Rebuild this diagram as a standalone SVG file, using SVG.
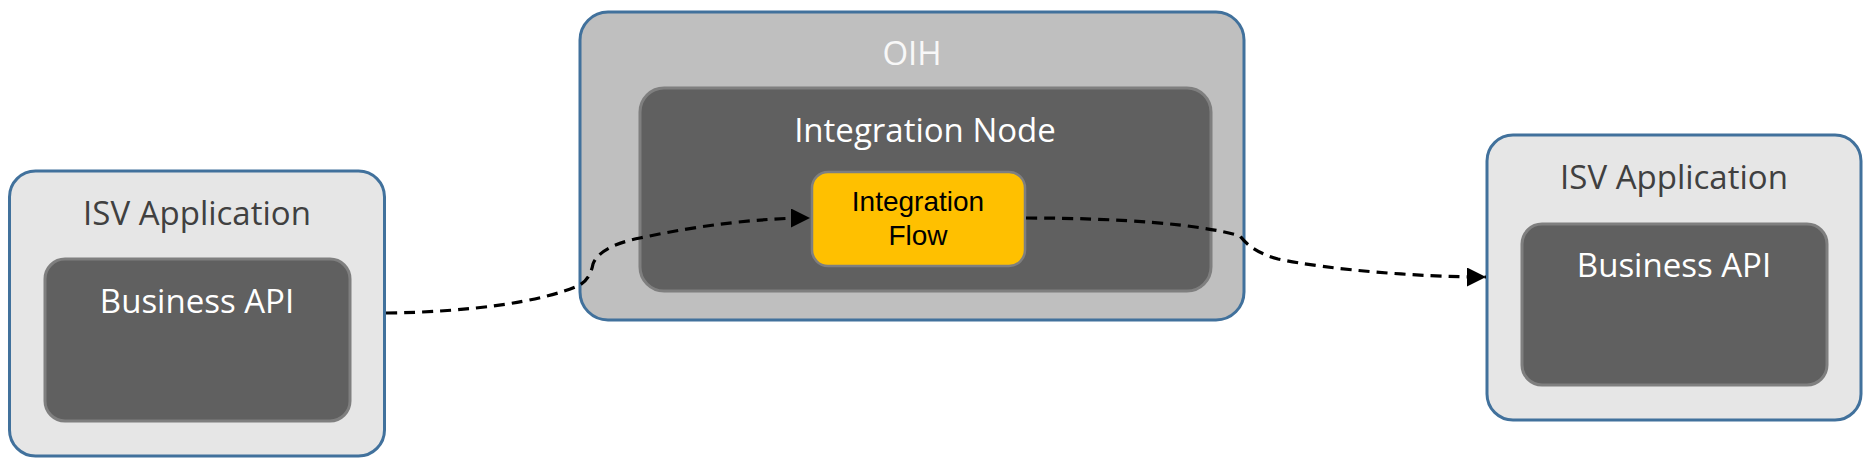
<svg xmlns="http://www.w3.org/2000/svg" width="1870" height="464" viewBox="0 0 1870 464">
<defs>
<style>
.outer{fill:#e6e6e6;stroke:#41719c;stroke-width:3}
.oih{fill:#bfbfbf;stroke:#41719c;stroke-width:3}
.dark{fill:#606060;stroke:#7f7f7f;stroke-width:3}
.flow{fill:#ffc000;stroke:#7f7f7f;stroke-width:2.5}
.t{font-family:"Open Sans","Liberation Sans",sans-serif;font-size:33px;text-anchor:middle}
.t1{fill:#404040}
.tw{fill:#ffffff}
.tf{font-family:"Liberation Sans",Arial,sans-serif;font-size:28px;text-anchor:middle;fill:#000}
.conn{fill:none;stroke:#000;stroke-width:3.2;stroke-dasharray:11 7}
</style>
<marker id="arr" viewBox="0 0 10 10" refX="10" refY="5" markerUnits="userSpaceOnUse" markerWidth="19" markerHeight="19" orient="auto">
<path d="M0,0 L10,5 L0,10 Z" fill="#000"/>
</marker>
</defs>
<rect width="1870" height="464" fill="#fff"/>
<g id="isv-left">
<rect class="outer" x="9.5" y="171" width="375" height="285" rx="26"/>
<text class="t t1" x="197" y="225">ISV Application</text>
</g>
<g id="api-left">
<rect class="dark" x="45" y="259" width="305" height="162" rx="20"/>
<text class="t tw" x="197" y="313">Business API</text>
</g>
<g id="oih">
<rect class="oih" x="580" y="12" width="664" height="308" rx="28"/>
<text class="t" x="912" y="65" fill="#f8f8f8">OIH</text>
</g>
<g id="integration-node">
<rect class="dark" x="640" y="88" width="571" height="203" rx="24"/>
<text class="t tw" x="925" y="142">Integration Node</text>
</g>
<g id="integration-flow">
<rect class="flow" x="812" y="172" width="213" height="94" rx="16"/>
<text class="tf" x="918" y="211">Integration</text>
<text class="tf" x="918" y="245">Flow</text>
</g>
<g id="isv-right">
<rect class="outer" x="1487" y="135" width="374" height="285" rx="26"/>
<text class="t t1" x="1674" y="189">ISV Application</text>
</g>
<g id="api-right">
<rect class="dark" x="1522" y="224" width="305" height="161" rx="20"/>
<text class="t tw" x="1674" y="277">Business API</text>
</g>
<g id="connectors">
<path class="conn" marker-end="url(#arr)" d="M386,313 C470,312 540,302 578,286 Q590,280 593,264 Q600,246 640,238 C700,225 760,218 810,218"/>
<path class="conn" marker-end="url(#arr)" d="M1026,218 C1120,218 1200,224 1240,236 Q1252,252 1278,259 C1330,270 1420,277 1486,277"/>
</g>
</svg>
